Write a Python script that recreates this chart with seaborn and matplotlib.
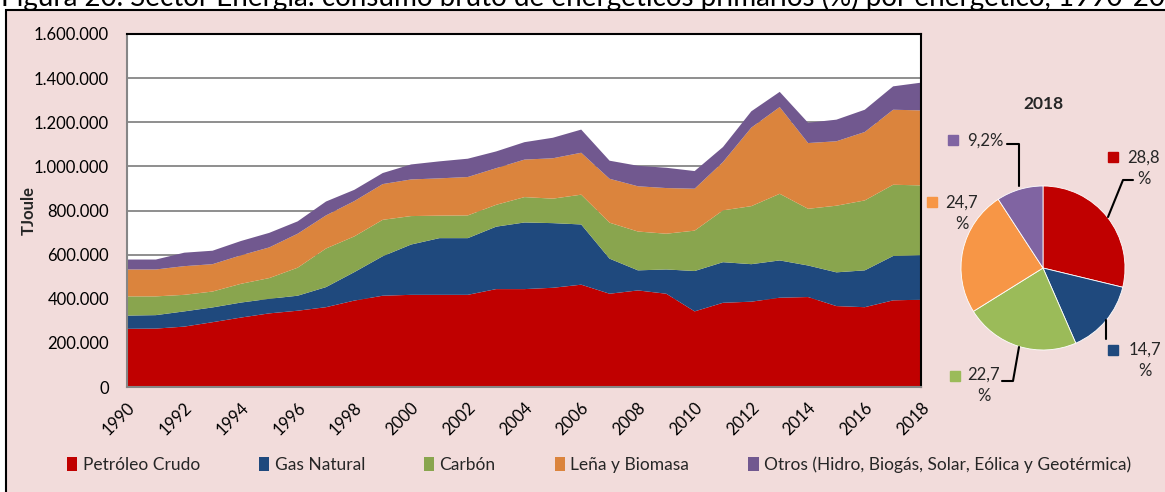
import matplotlib
matplotlib.use("Agg")
import matplotlib.pyplot as plt
import matplotlib.ticker as mticker
from matplotlib.patches import Rectangle, Patch
import seaborn as sns

# datos (TJ)
years = list(range(1990, 2019))
petroleo = [266, 267, 276, 296, 317, 336, 348, 364, 394, 416, 420, 420, 420, 446, 446,
            452, 466, 425, 440, 425, 345, 384, 389, 407, 410, 369, 364, 395, 398]
gas = [60, 61, 69, 67, 68, 66, 68, 91, 129, 179, 228, 257, 257, 283, 302,
       293, 273, 159, 91, 110, 183, 184, 170, 169, 143, 153, 167, 201, 202]
carbon = [87, 85, 75, 72, 85, 94, 127, 175, 162, 165, 129, 102, 103, 99, 115,
          111, 135, 163, 176, 162, 183, 235, 263, 302, 257, 302, 317, 323, 316]
lena = [122, 122, 130, 124, 129, 139, 154, 150, 160, 162, 166, 169, 174, 166, 170,
        183, 190, 199, 205, 207, 190, 219, 356, 393, 298, 292, 310, 340, 340]
otros = [45, 45, 61, 61, 65, 66, 56, 63, 51, 50, 68, 77, 83, 76, 79,
         93, 105, 82, 93, 92, 80, 68, 74, 69, 92, 98, 101, 106, 126]

series_names = ["Petróleo Crudo", "Gas Natural", "Carbón", "Leña y Biomasa",
                "Otros (Hidro, Biogás, Solar, Eólica y Geotérmica)"]
pie_2018 = [28.8, 14.7, 22.7, 24.7, 9.2]
pie_labels = ["28,8\n%", "14,7\n%", "22,7\n%", "24,7\n%", "9,2%"]

area_colors = ["#C00000", "#1F497D", "#89A54E", "#DB843D", "#71588F"]
pie_colors = ["#C00000", "#1F497D", "#9BBB59", "#F79646", "#8064A2"]

sns.set_theme(style="white")
plt.rcParams["font.family"] = ["Lato", "DejaVu Sans"]

W, H = 1165, 492
fig = plt.figure(figsize=(W / 100, H / 100), dpi=100, facecolor="white")

# recuadro rosado
fig.patches.append(Rectangle((6 / W, -0.1), 1.2, 1 - 10 / H + 0.1, transform=fig.transFigure,
                             facecolor="#F2DCDB", edgecolor="black", lw=1.5, zorder=-10))
fig.text(0.001, 1 - 6 / H,
         "Figura 20. Sector Energía: consumo bruto de energéticos primarios (%) por energético, 1990-2018",
         fontsize=20, va="baseline", ha="left", color="black")

ax = fig.add_axes([127 / W, 1 - 387 / H, (921 - 127) / W, (387 - 34) / H])
ax.set_facecolor("white")
vals = [[v * 1000 for v in s] for s in (petroleo, gas, carbon, lena, otros)]
ax.stackplot(years, *vals, colors=area_colors, labels=series_names, lw=0, zorder=2)

ax.set_xlim(1990, 2018)
ax.set_ylim(0, 1600000)
ax.yaxis.set_major_locator(mticker.MultipleLocator(200000))
ax.yaxis.set_major_formatter(mticker.FuncFormatter(lambda v, _: f"{int(v):,}".replace(",", ".")))
ax.set_xticks(years)
ax.set_xticklabels([str(y) if (y - 1990) % 2 == 0 else "" for y in years],
                   rotation=45, ha="right", rotation_mode="anchor")
ax.grid(axis="y", color="#868686", lw=1.3, zorder=1)
ax.set_axisbelow(True)
for side in ("top", "right"):
    ax.spines[side].set_color("black")
    ax.spines[side].set_linewidth(1.5)
for side in ("left", "bottom"):
    ax.spines[side].set_color("#868686")
    ax.spines[side].set_linewidth(1.5)
ax.tick_params(axis="both", which="both", direction="out", length=4, width=1.3,
               color="#868686", labelsize=12, labelcolor="black")
ax.tick_params(axis="y", pad=9)
ax.tick_params(axis="x", pad=5)
ax.set_ylabel("TJoule", fontsize=12, fontweight="bold")
ax.yaxis.set_label_coords(-0.1135, 0.5)

# torta 2018
cx, cy, r = 1043, 268, 82
axp = fig.add_axes([(cx - r) / W, 1 - (cy + r) / H, 2 * r / W, 2 * r / H])
axp.pie(pie_2018, colors=pie_colors, startangle=90, counterclock=False, radius=1,
        wedgeprops=dict(lw=0.6, edgecolor="white"))
axp.set_xlim(-1, 1)
axp.set_ylim(-1, 1)
axp.set_aspect("equal")


def pc(x, y):
    return (x - cx) / r, (cy - y) / r


axp.text(*pc(1043, 104), "2018", fontsize=12.5, fontweight="bold", ha="center", va="center")
label_pos = [(1144, 168), (1145, 360), (984, 385), (962, 213), (985, 141)]
square_pos = [(1113, 157), (1113, 350), (955, 376), (932, 202), (953, 140)]
for lab, (tx, ty), (sx, sy), col in zip(pie_labels, label_pos, square_pos, pie_colors):
    axp.text(*pc(tx, ty), lab, fontsize=12, ha="center", va="center",
             multialignment="center", linespacing=1.4, clip_on=False)
    axp.plot(*pc(sx, sy), marker="s", ms=7.5, color=col, clip_on=False, lw=0)
leaders = [
    [(1133, 180), (1123, 180), (1108, 217)],
    [(1106, 320), (1106, 339)],
    [(1002, 381), (1013, 381), (1019, 347)],
    [(1007, 144), (1019, 144), (1019, 186)],
]
for pts in leaders:
    xs, ys = zip(*[pc(x, y) for x, y in pts])
    axp.plot(xs, ys, color="black", lw=1.5, clip_on=False)

handles = [Patch(facecolor=c, edgecolor="none") for c in area_colors]
fig.legend(handles, series_names, loc="center", bbox_to_anchor=(599 / W, 1 - 465 / H),
           ncol=5, frameon=False, fontsize=12.5, handlelength=0.6, handleheight=0.9,
           handletextpad=0.3, columnspacing=3.4)

fig.savefig("out.png", dpi=100, facecolor=fig.get_facecolor())
